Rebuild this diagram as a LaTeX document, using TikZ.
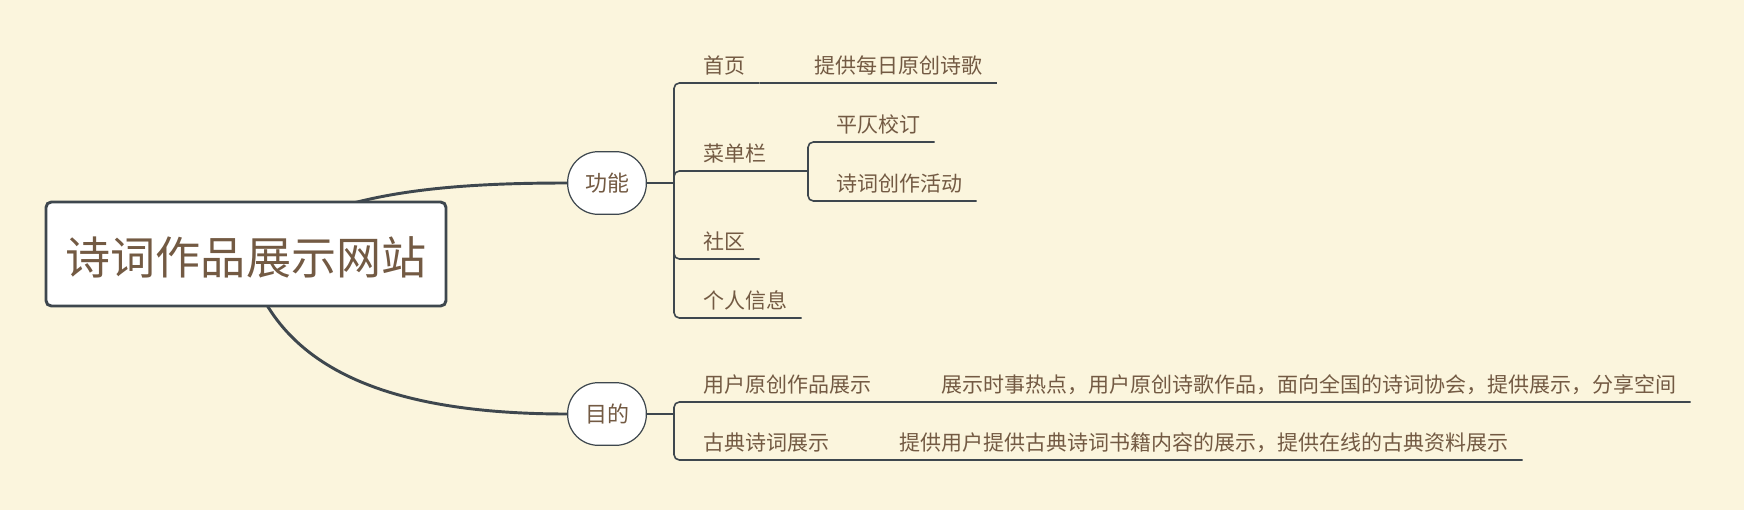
\documentclass[tikz,border=0pt]{standalone}
\usepackage{fontspec}
\setmainfont{Noto Sans CJK SC}
\usetikzlibrary{backgrounds}

\definecolor{bgcol}{HTML}{FBF5DD}
\definecolor{txtcol}{HTML}{735A43}
\definecolor{linecol}{HTML}{3E474E}

\begin{document}
\begin{tikzpicture}[
			x=0.75pt, y=-0.75pt,
			root/.style={draw=linecol, line width=2.2pt, rounded corners=4pt, fill=white,
				text=txtcol, font=\fontsize{33.8pt}{36pt}\selectfont,
				text height=30pt, text depth=0pt,
				minimum width=300pt, minimum height=78pt, inner sep=0pt},
			branch/.style={draw=linecol, line width=0.9pt, rounded corners=23pt, fill=white,
				text=txtcol, font=\fontsize{16.5pt}{18pt}\selectfont,
				minimum width=59pt, minimum height=47pt, inner sep=0pt},
			topic/.style={anchor=south west, text=txtcol, font=\fontsize{15.75pt}{18pt}\selectfont,
				inner xsep=10.5pt, inner ysep=5.6pt, text height=0.88em, text depth=0.12em},
			curve/.style={draw=linecol, line width=2.2pt},
			conn/.style={draw=linecol, line width=1.2pt, rounded corners=4pt}
			]
			\useasboundingbox (0,0) rectangle (1744,510);

			\node[root] (root) at (246,254) {诗词作品展示网站};
			\node[branch] (gongneng) at (607,183) {功能};
			\node[branch] (mudi) at (607,414) {目的};

			% 功能
			\coordinate (j1) at (674,183);
			\node[topic] (shouye) at (689,83) {首页};
			\node[topic] (meiri) at (800,83) {提供每日原创诗歌};
			\node[topic] (caidan) at (689,171) {菜单栏};
			\coordinate (j2) at (808,171);
			\node[topic] (pingze) at (822,142) {平仄校订};
			\node[topic] (huodong) at (822,201) {诗词创作活动};
			\node[topic] (shequ) at (689,259) {社区};
			\node[topic] (geren) at (689,318) {个人信息};

			% 目的
			\coordinate (j3) at (674,414);
			\node[topic] (yonghu) at (689,402) {用户原创作品展示};
			\node[topic] (redian) at (927,402) {展示时事热点，用户原创诗歌作品，面向全国的诗词协会，提供展示，分享空间};
			\node[topic] (gudian) at (689,460) {古典诗词展示};
			\node[topic] (ziliao) at (885,460) {提供用户提供古典诗词书籍内容的展示，提供在线的古典资料展示};

			\draw[conn] (gongneng) -- (j1);
			\draw[conn] (j1) |- (shouye.south west) -- (shouye.south east);
			\draw[conn] (shouye.south east) -- (meiri.south west) -- (meiri.south east);
			\draw[conn] (j1) |- (caidan.south west) -- (caidan.south east) -- (j2);
			\draw[conn] (j2) |- (pingze.south west) -- (pingze.south east);
			\draw[conn] (j2) |- (huodong.south west) -- (huodong.south east);
			\draw[conn] (j1) |- (shequ.south west) -- (shequ.south east);
			\draw[conn] (j1) |- (geren.south west) -- (geren.south east);

			\draw[conn] (mudi) -- (j3);
			\draw[conn] (j3) |- (yonghu.south west) -- (yonghu.south east) -- (redian.south west) -- (redian.south east);
			\draw[conn] (j3) |- (gudian.south west) -- (gudian.south east) -- (ziliao.south west) -- (ziliao.south east);

			\begin{scope}[on background layer]
				\fill[bgcol] (0,0) rectangle (1744,510);
				\draw[curve] (root.center) .. controls (320,195) and (430,183) .. (gongneng.west);
				\draw[curve] (root.center) .. controls (275,370) and (390,414) .. (mudi.west);
			\end{scope}
		\end{tikzpicture}
\end{document}
